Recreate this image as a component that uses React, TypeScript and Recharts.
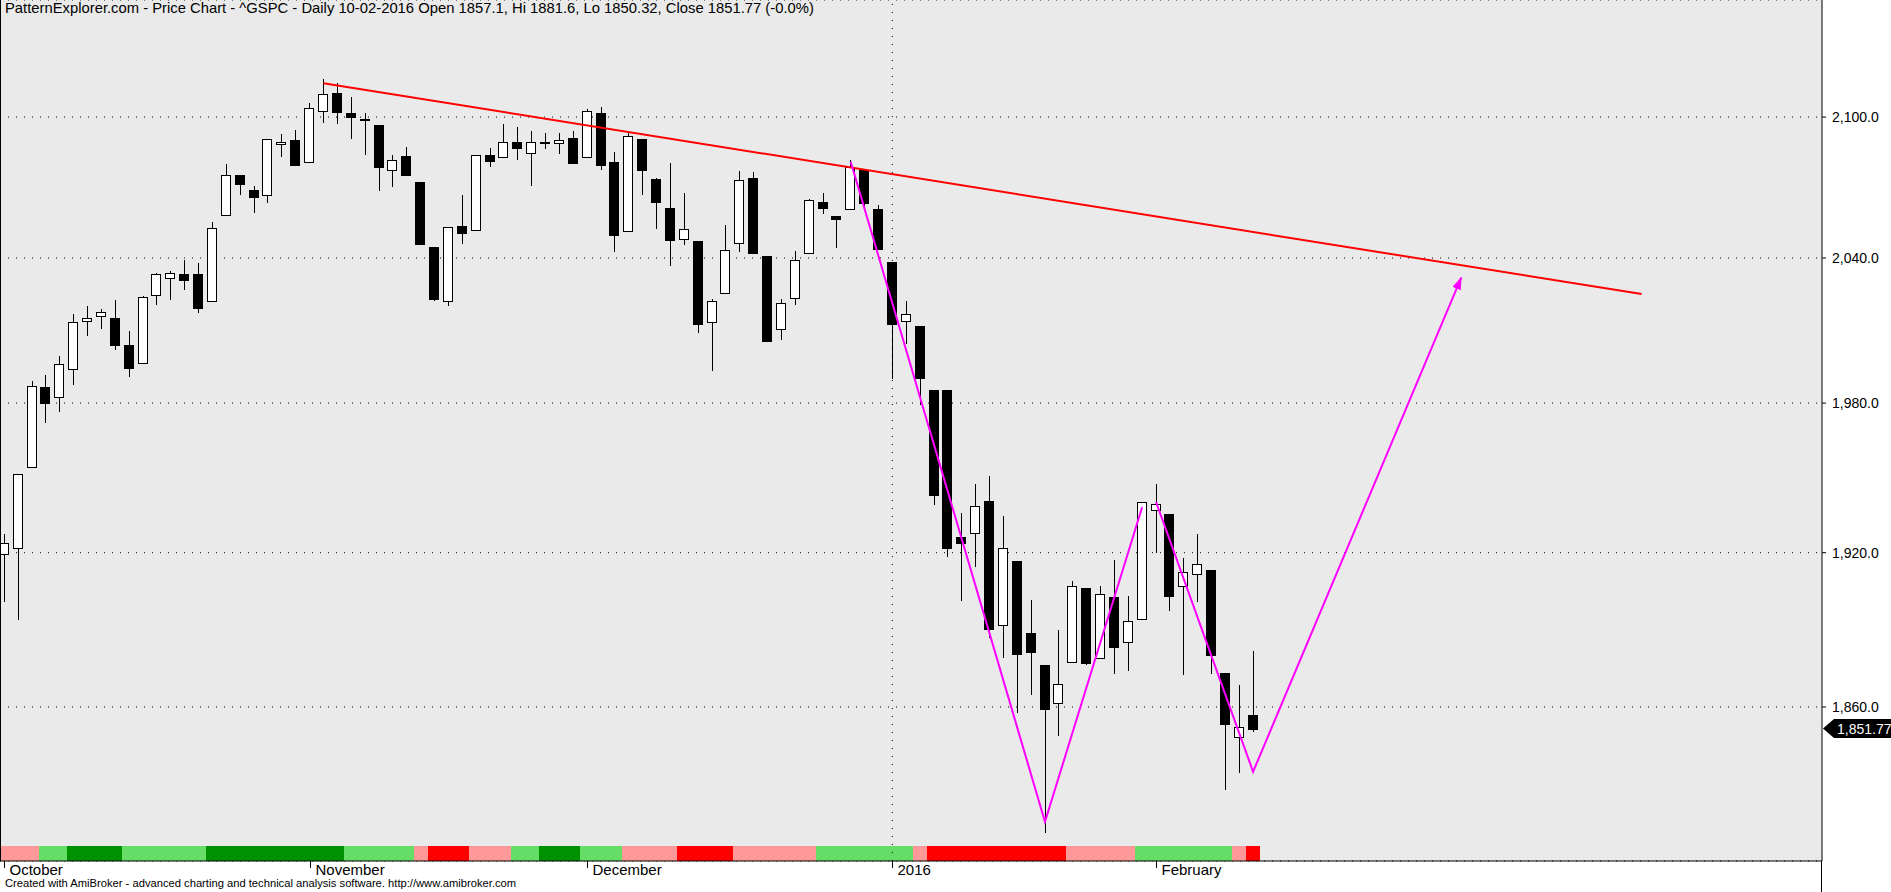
import React from 'react';
import {
  ComposedChart,
  Bar,
  Line,
  XAxis,
  YAxis,
  CartesianGrid,
  ReferenceLine,
} from 'recharts';

const FONT = '"Liberation Sans", Arial, Helvetica, sans-serif';

// ^GSPC daily bars, 1 Oct 2015 .. 10 Feb 2016 (one entry per trading day)
const opens = [
  1919.65, 1921.77, 1954.33, 1986.63, 1982.34, 1994.01, 2013.73, 2015.65, 2015.0, 2003.66, 1996.47,
  2024.37, 2031.73, 2033.13, 2033.47, 2021.88, 2058.19, 2075.08, 2068.75, 2066.48, 2088.35, 2090.0,
  2080.76, 2102.63, 2110.6, 2101.68, 2098.6, 2096.56, 2077.19, 2083.41, 2072.29, 2044.64, 2022.08,
  2053.67, 2051.99, 2083.7, 2082.82, 2089.41, 2084.42, 2089.3, 2088.82, 2090.95,
  2082.93, 2101.71, 2080.71, 2051.24, 2090.42, 2073.39, 2061.17, 2047.93, 2047.27, 2013.37, 2025.55,
  2046.5, 2073.76, 2040.81, 2010.27, 2023.15, 2042.2, 2063.52, 2057.77, 2060.54, 2077.34, 2060.59,
  2038.2, 2013.78, 2011.71, 1985.32, 1985.32, 1926.12, 1927.83, 1940.34, 1891.68, 1916.68, 1888.66,
  1876.18, 1861.46, 1877.4, 1906.28, 1878.79, 1902.52, 1885.22, 1894.0,
  1936.94, 1935.26, 1907.07, 1911.67, 1913.07, 1873.25, 1848.46, 1857.1,
];
const highs = [
  1927.21, 1951.36, 1989.17, 1991.62, 1999.31, 2016.5, 2020.13, 2018.66, 2022.34, 2009.56, 2024.15,
  2033.54, 2034.45, 2039.12, 2037.97, 2055.2, 2079.74, 2075.14, 2070.37, 2090.35, 2092.52, 2094.32,
  2106.2, 2116.48, 2114.59, 2108.78, 2101.91, 2096.56, 2083.67, 2086.94, 2072.29, 2044.64, 2053.22,
  2066.69, 2083.58, 2086.74, 2097.06, 2095.61, 2094.12, 2093.0, 2093.29, 2093.81,
  2103.37, 2104.27, 2085.0, 2093.84, 2090.42, 2073.85, 2080.33, 2067.65, 2047.27, 2022.92, 2053.87,
  2076.72, 2076.37, 2040.81, 2022.9, 2042.74, 2064.73, 2067.36, 2057.77, 2081.56, 2077.34, 2062.54,
  2038.2, 2021.94, 2011.71, 1985.32, 1985.32, 1935.65, 1947.38, 1950.33, 1934.47, 1916.68, 1901.44,
  1876.18, 1889.85, 1908.85, 1906.28, 1906.73, 1916.99, 1902.96, 1940.24,
  1947.2, 1935.26, 1918.01, 1927.35, 1913.07, 1873.25, 1868.25, 1881.6,
];
const lows = [
  1900.7, 1893.7, 1954.33, 1971.99, 1976.44, 1987.53, 2007.61, 2010.55, 2001.78, 1990.73, 1996.47,
  2020.46, 2022.31, 2026.61, 2017.22, 2021.88, 2058.19, 2066.53, 2058.84, 2063.11, 2082.63, 2079.34,
  2080.76, 2097.51, 2096.98, 2090.41, 2083.74, 2068.24, 2069.91, 2074.85, 2045.66, 2022.02, 2019.94,
  2045.9, 2051.99, 2078.76, 2082.82, 2081.39, 2070.29, 2086.3, 2084.13, 2080.41,
  2082.93, 2077.11, 2042.35, 2051.24, 2066.78, 2052.32, 2036.53, 2045.67, 2008.8, 1993.26, 2025.55,
  2042.43, 2041.66, 2005.33, 2005.93, 2020.49, 2042.2, 2058.73, 2044.2, 2060.54, 2061.97, 2043.62,
  1989.68, 2004.17, 1979.05, 1938.83, 1918.46, 1901.1, 1914.35, 1886.41, 1878.93, 1857.83, 1864.6,
  1812.29, 1848.98, 1877.4, 1875.97, 1878.79, 1872.7, 1873.65, 1894.0,
  1920.03, 1897.29, 1872.23, 1900.52, 1872.65, 1828.46, 1834.94, 1850.32,
];
const closes = [
  1923.82, 1951.36, 1987.05, 1979.92, 1995.83, 2013.43, 2014.89, 2017.46, 2003.69, 1994.24, 2023.86,
  2033.11, 2033.66, 2030.77, 2018.94, 2052.51, 2075.15, 2071.18, 2065.89, 2090.35, 2089.41, 2079.36,
  2104.05, 2109.79, 2102.31, 2099.93, 2099.2, 2078.58, 2081.72, 2075.0, 2045.97, 2023.04, 2053.19,
  2050.44, 2083.58, 2081.24, 2089.17, 2086.59, 2089.14, 2088.87, 2090.11, 2080.41,
  2102.63, 2079.51, 2049.62, 2091.69, 2077.07, 2063.59, 2047.62, 2052.23, 2012.37, 2021.94, 2043.41,
  2073.07, 2041.89, 2005.55, 2021.15, 2038.97, 2064.29, 2060.99, 2056.5, 2078.36, 2063.36, 2043.94,
  2012.66, 2016.71, 1990.26, 1943.09, 1922.03, 1923.67, 1938.68, 1890.28, 1921.84, 1880.33, 1881.33,
  1859.33, 1868.99, 1906.9, 1877.08, 1903.63, 1882.95, 1893.36, 1940.24,
  1939.38, 1903.03, 1912.53, 1915.45, 1880.05, 1853.44, 1852.21, 1851.77,
];

// x axis: bar index of the first session of each month, and its label
const monthTickIdx = [0, 22, 42, 64, 83];
const monthTickText = ['October', 'November', 'December', '2016', 'February'];

const priceTicks = [1860, 1920, 1980, 2040, 2100];

// coloured ribbon along the bottom: [colour, number of bars]
const ribbonRuns: [string, number][] = [
  ['#FF9999', 3], ['#66DD66', 2], ['#009100', 4], ['#66DD66', 6], ['#009100', 10],
  ['#66DD66', 5], ['#FF9999', 1], ['#FF0000', 3], ['#FF9999', 3], ['#66DD66', 2],
  ['#009100', 3], ['#66DD66', 3], ['#FF9999', 4], ['#FF0000', 4], ['#FF9999', 6],
  ['#66DD66', 7], ['#FF9999', 1], ['#FF0000', 10], ['#FF9999', 5], ['#66DD66', 7],
  ['#FF9999', 1], ['#FF0000', 1],
];

// hand drawn studies: [bar index, price]
const resistanceLine: [number, number][] = [[23, 2114.7], [118, 2024.9]];
const zigzagA: [number, number][] = [[61, 2080.8], [75, 1816.6], [82, 1938.0]];
const zigzagB: [number, number][] = [[83, 1940.2], [90, 1835.4], [105, 2031.8]];

const lastClose = 1851.77;

const title =
  'PatternExplorer.com - Price Chart - ^GSPC - Daily 10-02-2016 Open 1857.1, Hi 1881.6, Lo 1850.32, Close 1851.77 (-0.0%)';
const footer =
  'Created with AmiBroker - advanced charting and technical analysis software. http://www.amibroker.com';

type Row = { i: number; [k: string]: any };

function buildRows(): Row[] {
  const map = new Map<number, Row>();
  const ribbon: string[] = [];
  ribbonRuns.forEach(([col, n]) => {
    for (let k = 0; k < n; k++) ribbon.push(col);
  });
  opens.forEach((o, i) => {
    map.set(i, {
      i,
      o,
      h: highs[i],
      l: lows[i],
      c: closes[i],
      range: [lows[i], highs[i]],
      band: 1,
      bandColor: ribbon[i],
    });
  });
  const put = (pts: [number, number][], key: string) =>
    pts.forEach(([i, v]) => {
      const r = map.get(i) ?? { i };
      r[key] = v;
      map.set(i, r);
    });
  put(resistanceLine, 'res');
  put(zigzagA, 'zzA');
  put(zigzagB, 'zzB');
  return Array.from(map.values()).sort((a, b) => a.i - b.i);
}

const rows = buildRows();

const fmtPrice = (v: number, d: number) =>
  v.toLocaleString('en-US', { minimumFractionDigits: d, maximumFractionDigits: d });

function Candle(props: any) {
  const { x, y, width, height, payload } = props;
  if (!payload || payload.o == null) return null;
  const { o, h, l, c } = payload;
  const top = Math.min(y, y + height);
  const ht = Math.abs(height);
  const span = Math.log(h / l) || 1;
  // log price axis: interpolate open / close inside the high-low span
  const toY = (v: number) => top + (ht * Math.log(h / v)) / span;
  const cx = Math.floor(x + width / 2) + 0.5;
  const bTop = Math.round(toY(Math.max(o, c))) + 0.5;
  let bBot = Math.round(toY(Math.min(o, c))) + 0.5;
  if (bBot - bTop < 1) bBot = bTop + 1;
  const up = c >= o;
  return (
    <g>
      <line x1={cx} x2={cx} y1={Math.round(top)} y2={Math.round(top + ht)} stroke="#000" strokeWidth={1} />
      <rect
        x={cx - 5}
        y={bTop}
        width={9}
        height={bBot - bTop}
        fill={up ? '#FFFFFF' : '#000000'}
        stroke="#000"
        strokeWidth={1}
      />
    </g>
  );
}

// ribbon cell: fills the whole slot of its bar so neighbours touch
function RibbonCell(props: any) {
  const { x, y, width, height, payload } = props;
  if (!payload || !payload.bandColor) return null;
  const cx = x + width / 2;
  const left = Math.round(cx - 6.94);
  const right = Math.round(cx + 6.94);
  const top = Math.round(Math.min(y, y + height));
  const bottom = Math.round(Math.max(y, y + height));
  return <rect x={left} y={top} width={right - left} height={bottom - top} fill={payload.bandColor} />;
}

function MonthTick({ x, y, payload }: any) {
  const k = monthTickIdx.indexOf(payload.value);
  const px = Math.round(x) + 0.5;
  return (
    <g>
      <line x1={px} x2={px} y1={y} y2={y + 7} stroke="#000" strokeWidth={1} />
      <text x={px + 5} y={y + 13.5} fontSize={15} fontFamily={FONT} fill="#000">
        {monthTickText[k]}
      </text>
    </g>
  );
}

function PriceTag({ viewBox }: any) {
  if (!viewBox) return null;
  const x0 = viewBox.x + viewBox.width;
  const y0 = viewBox.y;
  const pts = [
    [x0 + 1, y0],
    [x0 + 12, y0 - 9.5],
    [x0 + 69, y0 - 9.5],
    [x0 + 69, y0 + 9.5],
    [x0 + 12, y0 + 9.5],
  ]
    .map((p) => p.join(','))
    .join(' ');
  return (
    <g>
      <polygon points={pts} fill="#000" />
      <text x={x0 + 15} y={y0 + 5} fill="#fff" fontSize={14} fontFamily={FONT}>
        {fmtPrice(lastClose, 2)}
      </text>
    </g>
  );
}

export default function App() {
  return (
    <div style={{ position: 'relative', width: 1891, height: 892, background: '#fff', overflow: 'hidden' }}>
      <style>{'body{margin:0;background:#fff;}'}</style>
      <ComposedChart
        width={1891}
        height={892}
        data={rows}
        margin={{ top: 0, right: 0, bottom: 0, left: 0 }}
      >
        <defs>
          <marker
            id="zzArrow"
            viewBox="0 0 13 9"
            refX="12"
            refY="4.5"
            markerWidth="13"
            markerHeight="9"
            markerUnits="userSpaceOnUse"
            orient="auto"
          >
            <path d="M0,0 L13,4.5 L0,9 Z" fill="#FF00FF" />
          </marker>
        </defs>
        <CartesianGrid
          xAxisId="main"
          yAxisId="price"
          vertical={false}
          fill="#EAEAEA"
          stroke="#000"
          strokeDasharray="1 7"
        />
        <XAxis
          xAxisId="main"
          dataKey="i"
          type="number"
          domain={[-0.31, 131]}
          allowDataOverflow
          ticks={monthTickIdx}
          interval={0}
          height={31}
          tickSize={0}
          tickMargin={0}
          tickLine={false}
          axisLine={{ stroke: '#000' }}
          tick={<MonthTick />}
        />
        <XAxis xAxisId="ribbon" dataKey="i" type="number" domain={[-0.31, 131]} allowDataOverflow hide />
        <YAxis
          yAxisId="price"
          orientation="right"
          scale="log"
          domain={[1802.0, 2151.2]}
          allowDataOverflow
          ticks={priceTicks}
          interval={0}
          width={69}
          tickSize={4}
          tickMargin={6}
          axisLine={{ stroke: '#000' }}
          tickLine={{ stroke: '#000' }}
          tick={{ fill: '#000', fontSize: 14, fontFamily: FONT }}
          tickFormatter={(v) => fmtPrice(Number(v), 1)}
        />
        <YAxis yAxisId="ribbonY" domain={[0, 57.4]} allowDataOverflow hide />
        <ReferenceLine
          xAxisId="main"
          yAxisId="price"
          x={64}
          stroke="#000"
          strokeDasharray="1 7"
        />
        <Bar
          xAxisId="ribbon"
          yAxisId="ribbonY"
          dataKey="band"
          barSize={12}
          shape={<RibbonCell />}
          isAnimationActive={false}
        />
        <Bar
          xAxisId="main"
          yAxisId="price"
          dataKey="range"
          barSize={10}
          shape={<Candle />}
          isAnimationActive={false}
        />
        <Line
          xAxisId="main"
          yAxisId="price"
          dataKey="res"
          stroke="#FF0000"
          strokeWidth={2}
          dot={false}
          connectNulls
          isAnimationActive={false}
        />
        <Line
          xAxisId="main"
          yAxisId="price"
          dataKey="zzA"
          stroke="#FF00FF"
          strokeWidth={2}
          dot={false}
          connectNulls
          isAnimationActive={false}
        />
        <Line
          xAxisId="main"
          yAxisId="price"
          dataKey="zzB"
          stroke="#FF00FF"
          strokeWidth={2}
          dot={false}
          connectNulls
          markerEnd="url(#zzArrow)"
          isAnimationActive={false}
        />
        <ReferenceLine
          xAxisId="main"
          yAxisId="price"
          y={lastClose}
          stroke="none"
          label={<PriceTag />}
        />
      </ComposedChart>
      <div style={{ position: 'absolute', left: 0, top: 0, width: 1, height: 861, background: '#000' }} />
      <div style={{ position: 'absolute', left: 1821, top: 861, width: 1, height: 31, background: '#000' }} />
      <div
        style={{
          position: 'absolute',
          left: 5,
          top: 0,
          fontFamily: FONT,
          fontSize: 14.8,
          lineHeight: '17px',
          color: '#000',
          whiteSpace: 'nowrap',
        }}
      >
        {title}
      </div>
      <div
        style={{
          position: 'absolute',
          left: 5,
          top: 877,
          fontFamily: FONT,
          fontSize: 11.2,
          lineHeight: '13px',
          color: '#000',
          whiteSpace: 'nowrap',
        }}
      >
        {footer}
      </div>
    </div>
  );
}
